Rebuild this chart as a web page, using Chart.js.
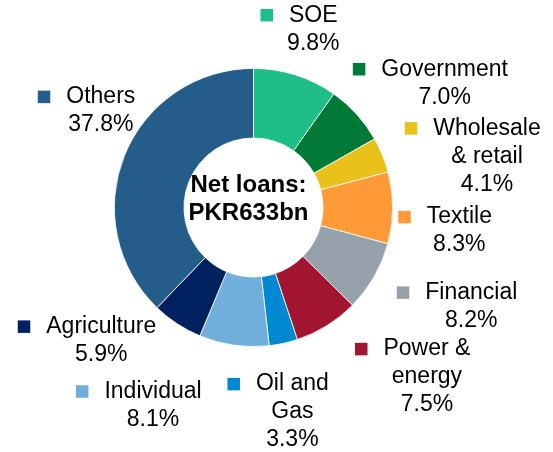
<!DOCTYPE html>
<html>
<head>
<meta charset="utf-8">
<script src="https://cdn.jsdelivr.net/npm/chart.js@4"></script>
<style>
  html, body { margin: 0; padding: 0; background: #fff; }
  #wrap { width: 553px; height: 452px; }
</style>
</head>
<body>
<div id="wrap"><canvas id="c" width="553" height="452"></canvas></div>
<script>
// ---- data ----
const categories = ['SOE', 'Government', 'Wholesale & retail', 'Textile', 'Financial',
                    'Power & energy', 'Oil and Gas', 'Individual', 'Agriculture', 'Others'];
const labelLines = [['SOE'], ['Government'], ['Wholesale', '& retail'], ['Textile'], ['Financial'],
                    ['Power &', 'energy'], ['Oil and', 'Gas'], ['Individual'], ['Agriculture'], ['Others']];
const shares = [9.8, 7.0, 4.1, 8.3, 8.2, 7.5, 3.3, 8.1, 5.9, 37.8];
const centerLines = ['Net loans:', 'PKR633bn'];

// ---- styles ----
const colors = ['#1FBE86', '#007A36', '#E9C11B', '#FF9A36', '#97A1AB',
                '#A2152F', '#0089D0', '#70AEDB', '#00215F', '#255D8A'];
// label nudges relative to the computed radial anchor (px)
const labelNudge = [[5, -20], [57, -17], [66, -11], [25, 9], [61, -5],
                    [78, -12], [0, 0], [-75, 5], [-53, -32], [15, -43]];

const FONT = 'Liberation Sans, Arial, sans-serif';

const labelPlugin = {
  id: 'outLabels',
  afterDatasetsDraw(chart) {
    const ctx = chart.ctx;
    const meta = chart.getDatasetMeta(0);
    ctx.save();
    meta.data.forEach((arc, i) => {
      const p = arc.getProps(['x', 'y', 'startAngle', 'endAngle', 'outerRadius', 'innerRadius'], true);
      const mid = (p.startAngle + p.endAngle) / 2;
      const R = p.outerRadius * 1.3;
      const ax = p.x + Math.cos(mid) * R + labelNudge[i][0];
      const ay = p.y + Math.sin(mid) * R + labelNudge[i][1];
      const lines = labelLines[i].concat([shares[i].toFixed(1) + '%']);
      ctx.font = '23px ' + FONT;
      ctx.fillStyle = '#000';
      ctx.textAlign = 'center';
      ctx.textBaseline = 'middle';
      lines.forEach((t, k) => ctx.fillText(t, ax, ay + k * 28));
      const w = ctx.measureText(lines[0]).width;
      const sz = 12.5;
      const left = ax - w / 2 - 16 - sz;
      ctx.fillStyle = colors[i];
      ctx.fillRect(left, ay - sz / 2, sz, sz);
    });
    // center text
    const a0 = meta.data[0];
    ctx.font = 'bold 24px ' + FONT;
    ctx.fillStyle = '#000';
    ctx.textAlign = 'center';
    ctx.textBaseline = 'middle';
    ctx.fillText(centerLines[0], a0.x - 5, a0.y - 22);
    ctx.fillText(centerLines[1], a0.x - 5, a0.y + 6);
    ctx.restore();
  }
};

new Chart(document.getElementById('c'), {
  type: 'doughnut',
  data: {
    labels: categories,
    datasets: [{
      data: shares,
      backgroundColor: colors,
      borderColor: '#ffffff',
      borderWidth: 0.8
    }]
  },
  options: {
    responsive: false,
    animation: false,
    cutout: '50%',
    rotation: 0,
    layout: { padding: { top: 68, bottom: 105, left: 114, right: 160 } },
    plugins: { legend: { display: false }, tooltip: { enabled: false } }
  },
  plugins: [labelPlugin]
});
</script>
</body>
</html>
